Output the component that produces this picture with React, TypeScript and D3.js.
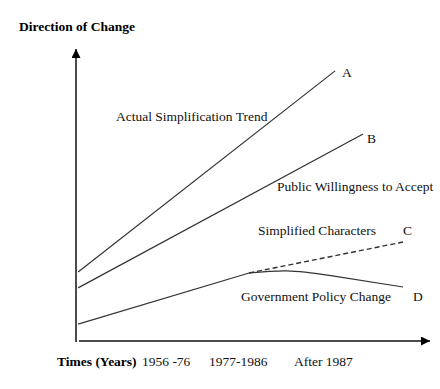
import { useEffect, useRef } from 'react';
import * as d3 from 'd3';

// abstract units: x = time (0..100), y = direction of change (0..100)
const actualTrend: [number, number][] = [[0.6, 23.6], [73.2, 92.5]];
const publicWillingness: [number, number][] = [[0.6, 18.2], [81.1, 70.9]];
const govRise: [number, number][] = [[0.6, 5.8], [48.9, 23.3]];
const govFall: [number, number][] = [[48.9, 23.3], [59.5, 24.0], [72.0, 22.4], [92.4, 18.5]];
const simplified: [number, number][] = [[48.9, 23.3], [92.4, 33.9]];

const timeLabels = ['1956 -76', '1977-1986', 'After 1987'];
const timeLabelX = [142, 209, 294];

const lineLabels = [
  { text: 'Actual Simplification Trend', x: 116, y: 121 },
  { text: 'A', x: 342, y: 77 },
  { text: 'B', x: 367, y: 143 },
  { text: 'Public Willingness to Accept', x: 277, y: 191 },
  { text: 'Simplified Characters', x: 258, y: 235 },
  { text: 'C', x: 403, y: 235 },
  { text: 'Government Policy Change', x: 241, y: 301 },
  { text: 'D', x: 413, y: 301 },
];

const App = () => {
  const svgRef = useRef<SVGSVGElement>(null);

  useEffect(() => {
    const svg = d3.select(svgRef.current);
    svg.selectAll('*').remove();

    const x = d3.scaleLinear().domain([0, 100]).range([76, 430]);
    const y = d3.scaleLinear().domain([0, 100]).range([341, 49]);

    const font = '"Liberation Serif", "Times New Roman", serif';
    const fs = 13.5;

    // arrow markers
    const defs = svg.append('defs');
    defs.append('marker')
      .attr('id', 'arrow')
      .attr('viewBox', '0 0 10 10')
      .attr('refX', 10)
      .attr('refY', 5)
      .attr('markerWidth', 9)
      .attr('markerHeight', 9)
      .attr('markerUnits', 'userSpaceOnUse')
      .attr('orient', 'auto')
      .append('path')
      .attr('d', 'M0,0 L10,5 L0,10 Z')
      .attr('fill', '#000');

    // axes
    svg.append('line')
      .attr('x1', x(0)).attr('y1', 342)
      .attr('x2', x(0)).attr('y2', y(100))
      .attr('stroke', '#111').attr('stroke-width', 1.5)
      .attr('marker-end', 'url(#arrow)');
    svg.append('line')
      .attr('x1', x(0) + 3).attr('y1', y(0))
      .attr('x2', x(100)).attr('y2', y(0))
      .attr('stroke', '#111').attr('stroke-width', 1.5)
      .attr('marker-end', 'url(#arrow)');

    const straight = d3.line<[number, number]>()
      .x(d => x(d[0])).y(d => y(d[1]));
    const curved = d3.line<[number, number]>()
      .x(d => x(d[0])).y(d => y(d[1]))
      .curve(d3.curveNatural);

    const g = svg.append('g')
      .attr('fill', 'none')
      .attr('stroke', '#333')
      .attr('stroke-width', 1.2);

    g.append('path').attr('d', straight(actualTrend));
    g.append('path').attr('d', straight(publicWillingness));
    g.append('path').attr('d', straight(govRise));
    g.append('path').attr('d', curved(govFall));
    g.append('path').attr('d', straight(simplified))
      .attr('stroke-dasharray', '5,3').attr('stroke-width', 1.4);

    // labels
    svg.append('text')
      .attr('x', 19).attr('y', 31)
      .attr('font-family', font).attr('font-size', fs).attr('font-weight', 'bold')
      .text('Direction of Change');

    svg.append('g')
      .selectAll('text')
      .data(lineLabels)
      .join('text')
      .attr('x', d => d.x).attr('y', d => d.y)
      .attr('font-family', font).attr('font-size', fs)
      .attr('fill', '#111')
      .text(d => d.text);

    svg.append('text')
      .attr('x', 57).attr('y', 366)
      .attr('font-family', font).attr('font-size', fs).attr('font-weight', 'bold')
      .text('Times (Years)');

    svg.append('g')
      .selectAll('text')
      .data(timeLabels)
      .join('text')
      .attr('x', (_, i) => timeLabelX[i]).attr('y', 366)
      .attr('font-family', font).attr('font-size', fs)
      .attr('fill', '#111')
      .text(d => d);
  }, []);

  return (
    <svg
      ref={svgRef}
      width={440}
      height={389}
      style={{ position: 'absolute', left: 0, top: 0, background: '#fff' }}
    />
  );
};

export default App;
